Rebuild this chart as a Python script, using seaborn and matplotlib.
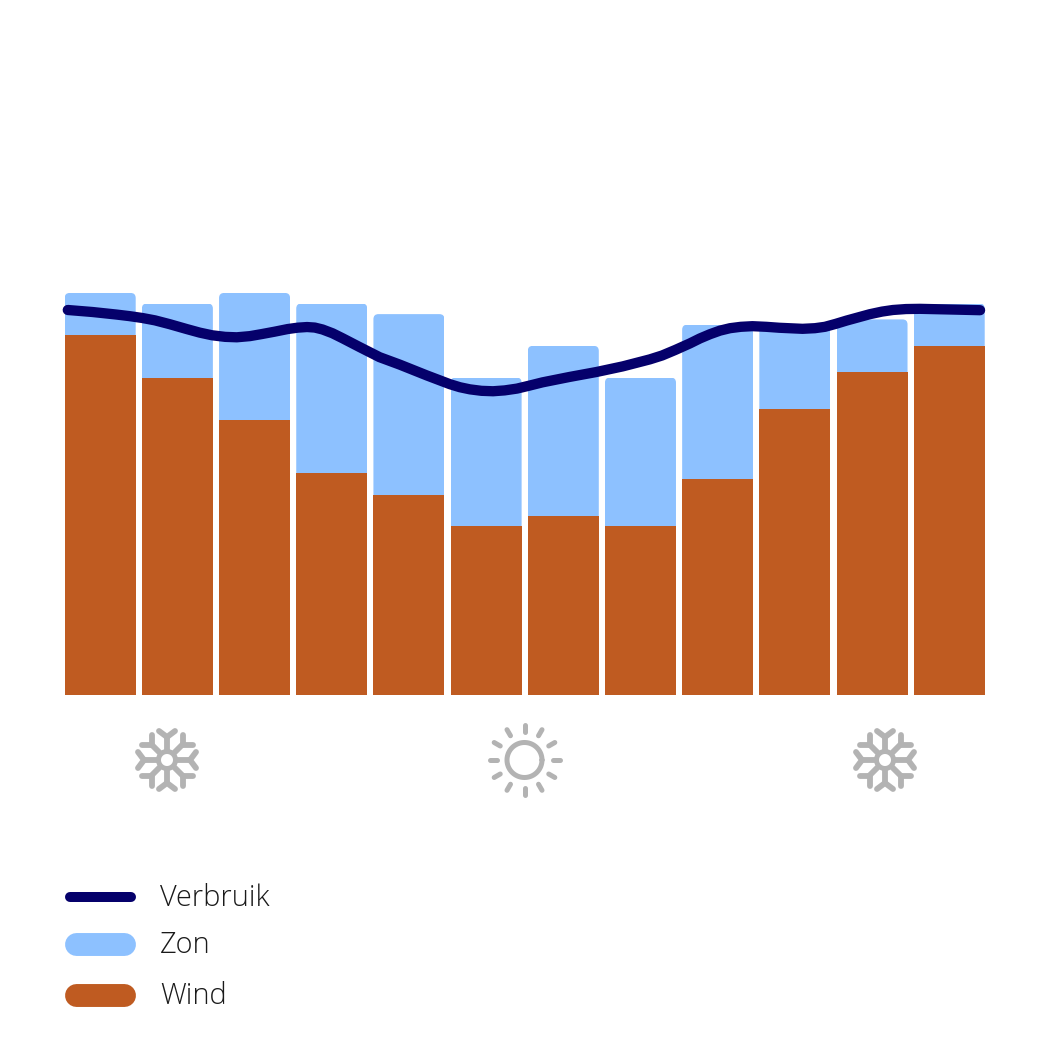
import numpy as np
import matplotlib
matplotlib.use("Agg")
import matplotlib.pyplot as plt
from matplotlib.patches import FancyBboxPatch
from matplotlib.transforms import IdentityTransform
import seaborn as sns

sns.set_theme(style="white")
plt.rcParams["font.family"] = ["Open Sans", "DejaVu Sans"]

# Data
months = ["jan", "feb", "mrt", "apr", "mei", "jun", "jul", "aug", "sep", "okt", "nov", "dec"]
wind = [34, 30, 26, 21, 18.9, 16, 16.9, 16, 20.4, 27, 30.5, 33]
zon = [4, 7, 12, 16, 17.1, 14, 16.1, 14, 14.6, 8, 5, 4]

verbruik_x = [-0.42, -0.10, 0.21, 0.38, 0.55, 0.71, 0.90, 1.12, 1.29, 1.45,
              1.62, 1.77, 1.94, 2.09, 2.26, 2.43, 2.56, 2.68, 2.78, 2.88,
              3.01, 3.14, 3.36, 3.62, 3.88, 4.23, 4.53, 4.66, 4.79, 4.94,
              5.09, 5.24, 5.40, 5.56, 5.73, 6.08, 6.43, 6.77, 7.12, 7.28,
              7.45, 7.64, 7.77, 7.90, 8.03, 8.16, 8.30, 8.45, 8.63, 8.80,
              9.10, 9.26, 9.39, 9.53, 9.67, 9.97, 10.13, 10.27, 10.44, 10.62,
              11.05, 11.40]
verbruik = [36.39, 36.20, 35.96, 35.81, 35.63, 35.41, 35.05, 34.59, 34.25, 34.00,
            33.85, 33.81, 33.92, 34.11, 34.34, 34.59, 34.72, 34.78, 34.73, 34.55,
            34.19, 33.72, 32.89, 31.93, 31.23, 30.21, 29.38, 29.09, 28.89, 28.75,
            28.71, 28.79, 28.96, 29.24, 29.55, 30.06, 30.53, 31.06, 31.72, 32.09,
            32.61, 33.23, 33.70, 34.10, 34.44, 34.67, 34.80, 34.86, 34.80, 34.71,
            34.61, 34.67, 34.80, 35.08, 35.39, 35.99, 36.24, 36.39, 36.48, 36.50,
            36.43, 36.37]

legend_labels = ["Verbruik", "Zon", "Wind"]

BLUE = "#8dc1ff"
BROWN = "#bf5b21"
NAVY = "#05006b"
GREY = "#b3b3b3"
INK = "#1a1a1a"
SIZE = 1050


def px_rect(left, top, right, bottom):
    return [left / SIZE, 1 - bottom / SIZE, (right - left) / SIZE, (bottom - top) / SIZE]


fig = plt.figure(figsize=(10.5, 10.5), dpi=100, facecolor="white")
rect = px_rect(61.6, 271.8, 987.8, 695)

# Bars
ax = fig.add_axes(rect)
total = np.array(wind) + np.array(zon)
sns.barplot(x=months, y=total, color=BLUE, saturation=1, width=0.92, linewidth=0, ax=ax)
n_blue = len(ax.patches)
sns.barplot(x=months, y=wind, color=BROWN, saturation=1, width=0.92, linewidth=0, ax=ax)
ax.set_xlim(-0.5, 11.5)
ax.set_ylim(0, 40)
ax.axis("off")

# Rounded tops on the blue bars only
for bar in ax.patches[:n_blue]:
    (x0, y0), (x1, y1) = ax.transData.transform(bar.get_bbox().get_points())
    clip = FancyBboxPatch((x0, y0 - 20), x1 - x0, y1 - y0 + 20,
                          boxstyle="round,pad=0,rounding_size=5")
    bar.set_clip_path(clip.get_path(), IdentityTransform())

# Line on its own numeric axes, same scale as the bars
ax_line = fig.add_axes(rect)
sns.lineplot(x=verbruik_x, y=verbruik, color=NAVY, linewidth=7.4, estimator=None,
             solid_capstyle="round", solid_joinstyle="round", ax=ax_line)
ax_line.set_xlim(-0.5, 11.5)
ax_line.set_ylim(0, 40)
ax_line.axis("off")
ax_line.patch.set_alpha(0)
for line in ax_line.lines:
    line.set_clip_on(False)

# Overlay in pixel coordinates for icons and legend
over = fig.add_axes([0, 0, 1, 1])
over.set_xlim(0, SIZE)
over.set_ylim(SIZE, 0)
over.axis("off")
over.patch.set_alpha(0)


def stroke(xs, ys, lw=3.6):
    over.plot(xs, ys, color=GREY, lw=lw, solid_capstyle="round", solid_joinstyle="round")


def snowflake(cx, cy):
    for k in range(4):
        a = k * np.pi / 2
        c, s = np.cos(a), np.sin(a)
        rot = lambda x, y: (cx + c * x - s * y, cy + s * x + c * y)
        # straight arm with a V tip
        x1, y1 = rot(0, -10)
        x2, y2 = rot(0, -23)
        stroke([x1, x2], [y1, y2], lw=4.2)
        x3, y3 = rot(-8, -29)
        x4, y4 = rot(8, -29)
        stroke([x3, x2, x4], [y3, y2, y4], lw=4.2)
        # diagonal arm with a square corner tip
        x1, y1 = rot(7.5, -7.5)
        x2, y2 = rot(15.5, -15.5)
        stroke([x1, x2], [y1, y2], lw=4.2)
        x3, y3 = rot(15.5, -25.5)
        x4, y4 = rot(25.5, -15.5)
        stroke([x3, x2, x4], [y3, y2, y4], lw=4.2)
    t = np.radians(np.arange(0, 361, 5))
    stroke(cx + 8.5 * np.cos(t), cy + 8.5 * np.sin(t), lw=3.6)


def sun(cx, cy):
    t = np.radians(np.arange(0, 361, 5))
    stroke(cx + 17.5 * np.cos(t), cy + 17.5 * np.sin(t))
    for a in np.radians(np.arange(0, 360, 30)):
        stroke([cx + 28 * np.cos(a), cx + 35 * np.cos(a)],
               [cy + 28 * np.sin(a), cy + 35 * np.sin(a)])


snowflake(167, 760)
sun(524.5, 760)
snowflake(885, 760)

# Legend
over.plot([69.5, 130.5], [897, 897], color=NAVY, lw=7.2, solid_capstyle="round")
over.plot([76, 124], [944, 944], color=BLUE, lw=16.5, solid_capstyle="round")
over.plot([76, 124], [995, 995], color=BROWN, lw=16.5, solid_capstyle="round")
for label, y in zip(legend_labels, [906, 953, 1004]):
    over.text(160, y, label, fontsize=20.8, fontweight=300, color=INK, va="baseline")

fig.savefig("out.png", dpi=100, facecolor="white")
